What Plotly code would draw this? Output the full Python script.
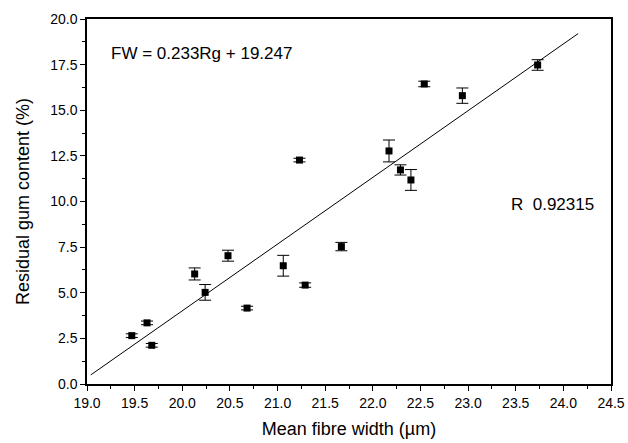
import plotly.graph_objects as go

# Data
fibre_width = [19.47, 19.63, 19.68, 20.13, 20.24, 20.48, 20.68, 21.06, 21.23,
               21.29, 21.67, 22.17, 22.29, 22.40, 22.54, 22.94, 23.73]
gum_content = [2.65, 3.35, 2.12, 6.03, 5.02, 7.03, 4.16, 6.48, 12.27,
               5.42, 7.53, 12.77, 11.73, 11.18, 16.44, 15.80, 17.48]
gum_error = [0.10, 0.10, 0.10, 0.33, 0.43, 0.30, 0.10, 0.57, 0.10,
             0.12, 0.23, 0.60, 0.28, 0.57, 0.15, 0.42, 0.29]

fit_x = [19.04, 24.155]
fit_y = [0.50, 19.20]

x_ticks = [19.0, 19.5, 20.0, 20.5, 21.0, 21.5, 22.0, 22.5, 23.0, 23.5, 24.0, 24.5]
y_ticks = [0.0, 2.5, 5.0, 7.5, 10.0, 12.5, 15.0, 17.5, 20.0]

FONT = "Arial, Liberation Sans, sans-serif"

fig = go.Figure()
fig.add_trace(go.Scatter(
    x=fit_x, y=fit_y, mode="lines",
    line=dict(color="black", width=1), showlegend=False, hoverinfo="skip"))
fig.add_trace(go.Scatter(
    x=fibre_width, y=gum_content, mode="markers",
    marker=dict(symbol="square", size=7, color="black"),
    error_y=dict(type="data", array=gum_error, visible=True,
                 color="black", thickness=1, width=6),
    showlegend=False))

axis_common = dict(
    showline=True, linecolor="black", linewidth=1.5, mirror=True,
    ticks="outside", ticklen=5, tickwidth=1, tickcolor="black",
    showgrid=False, zeroline=False, automargin=False,
    tickfont=dict(family=FONT, size=14, color="black"),
)

fig.update_xaxes(
    range=[19.0, 24.5], tickvals=x_ticks,
    ticktext=[f"{v:.1f}" for v in x_ticks],
    minor=dict(dtick=0.25, ticks="outside", ticklen=3, tickcolor="black", showgrid=False),
    title=dict(text="Mean fibre width (\u00b5m)", font=dict(family=FONT, size=18, color="black"), standoff=13),
    **axis_common)
fig.update_yaxes(
    range=[0.0, 20.0], tickvals=y_ticks,
    ticktext=[f"{v:.1f}" for v in y_ticks],
    minor=dict(dtick=1.25, ticks="outside", ticklen=3, tickcolor="black", showgrid=False),
    title=dict(text="Residual gum content (%)", font=dict(family=FONT, size=18, color="black"), standoff=16),
    **axis_common)

fig.add_annotation(x=0.042, y=0.905, xref="paper", yref="paper",
                   text="FW = 0.233Rg + 19.247", showarrow=False,
                   xanchor="left", yanchor="middle",
                   font=dict(family=FONT, size=17, color="black"))
fig.add_annotation(x=0.805, y=0.492, xref="paper", yref="paper",
                   text="R  0.92315", showarrow=False,
                   xanchor="left", yanchor="middle",
                   font=dict(family=FONT, size=17, color="black"))

fig.update_layout(
    width=628, height=443,
    margin=dict(l=87, r=17, t=19, b=59),
    paper_bgcolor="white", plot_bgcolor="white",
    font=dict(family=FONT, color="black"),
)

fig.write_html("out.html",
               config={"displayModeBar": False},
               post_script="document.body.style.margin='0';document.body.style.overflow='hidden';")
